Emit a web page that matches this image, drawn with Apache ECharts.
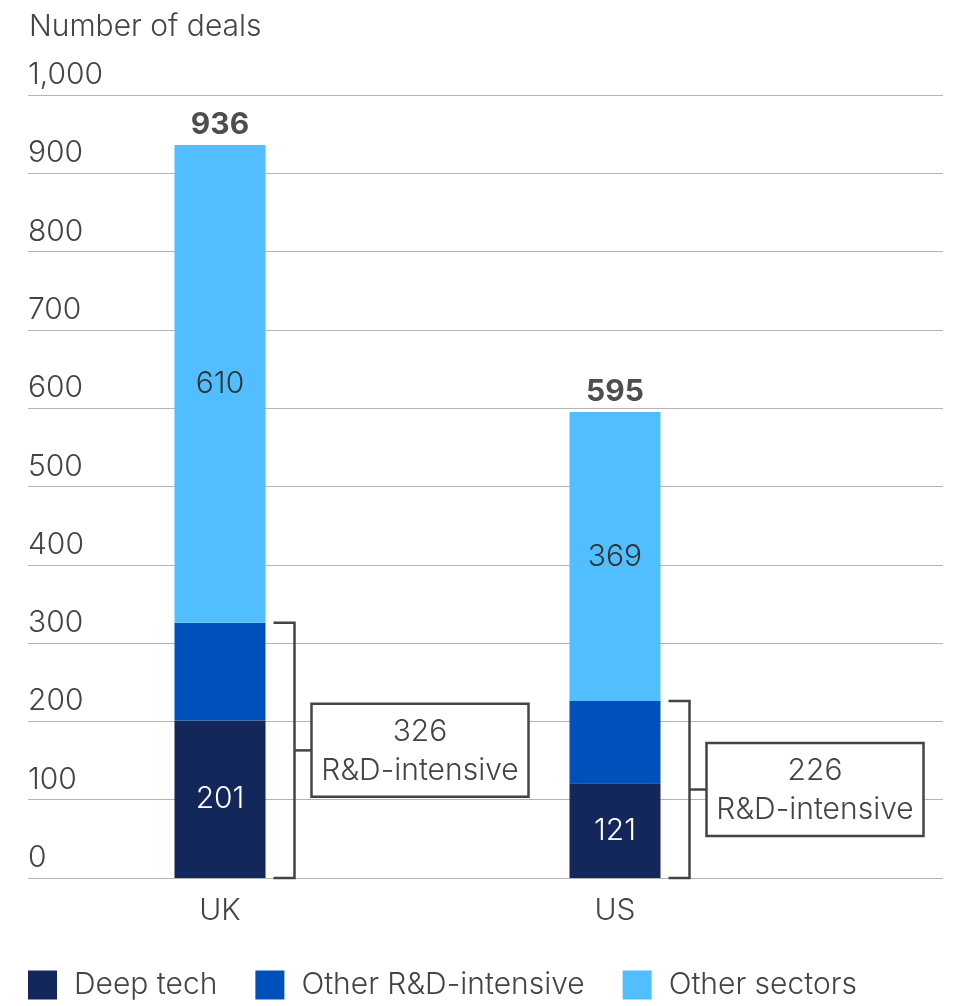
<!DOCTYPE html>
<html>
<head>
<meta charset="utf-8">
<script src="https://cdn.jsdelivr.net/npm/echarts@6/dist/echarts.min.js"></script>
<style>
  html, body { margin: 0; padding: 0; background: #fff; }
  #chart { width: 957px; height: 1006px; }
</style>
</head>
<body>
<div id="chart"></div>
<script>
// Deal counts by market, split into sector groups
const categories = ['UK', 'US'];
const deepTech = [201, 121];
const otherRD = [125, 105];
const otherSectors = [610, 369];
const yTicks = [0, 100, 200, 300, 400, 500, 600, 700, 800, 900, 1000];

const rdTotals = categories.map((c, i) => deepTech[i] + otherRD[i]);
const totals = categories.map((c, i) => rdTotals[i] + otherSectors[i]);

const FONT = 'Inter, "Noto Sans", sans-serif';
const TEXT = '#444';
const FS = 30;
const BAR_W = 91;

const chart = echarts.init(document.getElementById('chart'), null, { renderer: 'canvas' });

const segLabel = (color) => ({
  show: true,
  position: 'inside',
  color: color,
  fontFamily: FONT,
  fontSize: FS,
  fontWeight: 300
});

chart.setOption({
  animation: false,
  backgroundColor: '#fff',
  title: {
    text: 'Number of deals',
    left: 24,
    top: 7,
    textStyle: { fontFamily: FONT, fontSize: FS, fontWeight: 300, color: TEXT }
  },
  legend: {
    bottom: 1,
    left: 23,
    itemWidth: 29,
    itemHeight: 29,
    itemGap: 38,
    icon: 'rect',
    textStyle: { fontFamily: FONT, fontSize: FS, fontWeight: 300, color: TEXT, padding: [0, 0, 0, 12] },
    data: ['Deep tech', 'Other R&D-intensive', 'Other sectors']
  },
  grid: [
    // full-width grid carrying the horizontal gridlines and tick labels
    { left: 28, right: 14, top: 95, bottom: 128 },
    // grid holding the bars
    { left: 22.5, right: 144.5, top: 95, bottom: 128 }
  ],
  xAxis: [
    { gridIndex: 0, type: 'category', data: categories, show: false },
    {
      gridIndex: 1,
      type: 'category',
      data: categories,
      axisLine: { show: false },
      axisTick: { show: false },
      axisLabel: { margin: 18, fontFamily: FONT, fontSize: FS, fontWeight: 300, color: TEXT }
    }
  ],
  yAxis: [
    {
      gridIndex: 0,
      type: 'value',
      min: yTicks[0],
      max: yTicks[yTicks.length - 1],
      interval: 100,
      axisLine: { show: false },
      axisTick: { show: false },
      splitLine: { lineStyle: { color: '#b4b4b4', width: 1.2 } },
      axisLabel: {
        inside: true,
        margin: 0,
        verticalAlign: 'bottom',
        padding: [0, 0, 5, 0],
        fontFamily: FONT,
        fontSize: FS,
        fontWeight: 300,
        color: TEXT,
        formatter: (v) => v.toLocaleString('en-US')
      }
    },
    {
      gridIndex: 1,
      type: 'value',
      min: yTicks[0],
      max: yTicks[yTicks.length - 1],
      interval: 100,
      show: false,
      splitLine: { show: false }
    }
  ],
  series: [
    {
      name: 'Deep tech',
      type: 'bar',
      xAxisIndex: 1,
      yAxisIndex: 1,
      stack: 'deals',
      barWidth: BAR_W,
      itemStyle: { color: '#13275a' },
      label: segLabel('#fff'),
      data: deepTech
    },
    {
      name: 'Other R&D-intensive',
      type: 'bar',
      xAxisIndex: 1,
      yAxisIndex: 1,
      stack: 'deals',
      barWidth: BAR_W,
      itemStyle: { color: '#0050bc' },
      label: { show: false },
      data: otherRD
    },
    {
      name: 'Other sectors',
      type: 'bar',
      xAxisIndex: 1,
      yAxisIndex: 1,
      stack: 'deals',
      barWidth: BAR_W,
      itemStyle: { color: '#50beff' },
      label: segLabel('#333'),
      data: otherSectors
    },
    {
      // total above each bar
      name: 'Total',
      type: 'scatter',
      xAxisIndex: 1,
      yAxisIndex: 1,
      symbolSize: 0,
      silent: true,
      label: {
        show: true,
        position: 'top',
        distance: 5,
        fontFamily: FONT,
        fontSize: FS,
        fontWeight: 'bold',
        color: '#222'
      },
      data: totals
    },
    {
      // bracket spanning the R&D-intensive part with a boxed callout
      name: 'R&D bracket',
      type: 'custom',
      xAxisIndex: 1,
      yAxisIndex: 1,
      silent: true,
      data: categories.map((c, i) => [i, rdTotals[i]]),
      renderItem: (params, api) => {
        const top = api.coord([api.value(0), api.value(1)]);
        const base = api.coord([api.value(0), 0]);
        const right = top[0] + BAR_W / 2;
        const x0 = right + 8;
        const x1 = right + 29;
        const bx = right + 46;
        const midY = (top[1] + base[1]) / 2;
        const boxW = 217, boxH = 93;
        const stroke = { stroke: '#444', lineWidth: 2.5, fill: null };
        return {
          type: 'group',
          children: [
            {
              type: 'polyline',
              shape: { points: [[x0, top[1]], [x1, top[1]], [x1, base[1]], [x0, base[1]]] },
              style: stroke
            },
            {
              type: 'line',
              shape: { x1: x1, y1: midY, x2: bx, y2: midY },
              style: stroke
            },
            {
              type: 'rect',
              shape: { x: bx, y: midY - boxH / 2, width: boxW, height: boxH },
              style: { stroke: '#444', lineWidth: 2.5, fill: '#fff' }
            },
            {
              type: 'text',
              style: {
                x: bx + boxW / 2,
                y: midY + 1,
                text: api.value(1) + '\nR&D-intensive',
                align: 'center',
                verticalAlign: 'middle',
                lineHeight: 39,
                font: '300 ' + FS + 'px ' + FONT,
                fill: '#444'
              }
            }
          ]
        };
      }
    }
  ]
});
</script>
</body>
</html>
